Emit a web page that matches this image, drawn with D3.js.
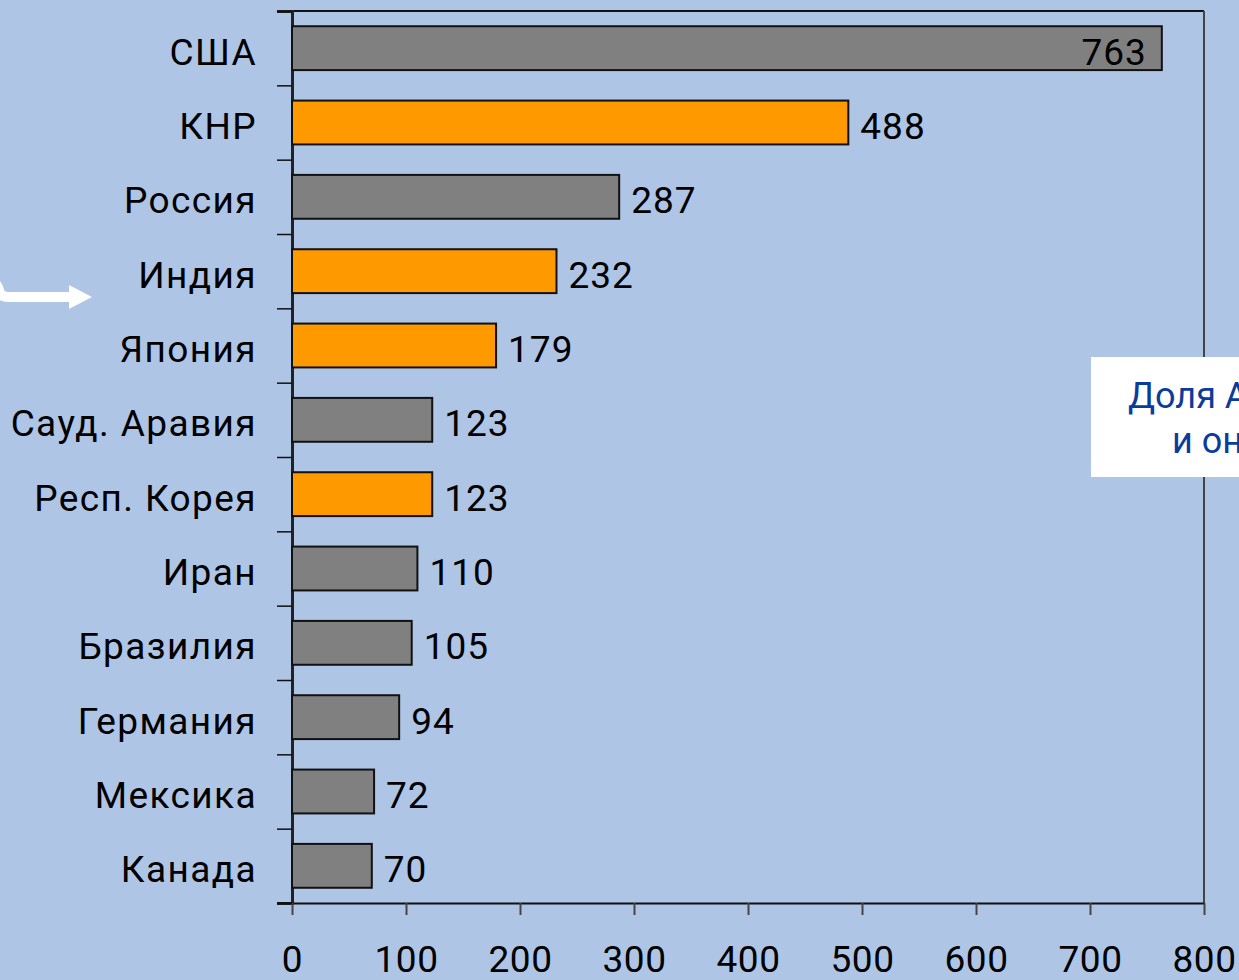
<!DOCTYPE html>
<html>
<head>
<meta charset="utf-8">
<script src="https://cdn.jsdelivr.net/npm/d3@7"></script>
<style>
    body { margin: 0; background: #afc5e5; overflow: hidden; }
    svg text { font-family: Roboto, "DejaVu Sans", sans-serif; }
</style>
</head>
<body>
<div id="chart"></div>
<script>
// chart data
const countries = ["США", "КНР", "Россия", "Индия", "Япония", "Сауд. Аравия", "Респ. Корея", "Иран", "Бразилия", "Германия", "Мексика", "Канада"];
const values = [763, 488, 287, 232, 179, 123, 123, 110, 105, 94, 72, 70];
const asian = [false, true, false, true, true, false, true, false, false, false, false, false];
const xTicks = [0, 100, 200, 300, 400, 500, 600, 700, 800];
const noteLines = ["Доля А", "и он"];

let margin = {top: 11, right: 35, bottom: 77, left: 292};
let width = 1239 - margin.left - margin.right;
let height = 980 - margin.top - margin.bottom;

let svg = d3.select("#chart").append("svg")
    .attr("width", 1239)
    .attr("height", 980);

let g = svg.append("g")
    .attr("transform", `translate(${margin.left}, ${margin.top})`);

let data = countries.map((c, i) => ({name: c, value: values[i], asian: asian[i]}));

// scales
let x = d3.scaleLinear()
    .domain([0, 800])
    .range([0, width]);

let y = d3.scaleBand()
    .domain(countries)
    .range([0, height])
    .paddingInner(0.41)
    .paddingOuter(0.205);

// category boundary ticks on the left
let yEdge = d3.scaleLinear()
    .domain([0, countries.length])
    .range([0, height]);

// top border
g.append("line")
    .attr("x1", -15).attr("x2", width)
    .attr("y1", 0).attr("y2", 0)
    .attr("stroke", "#111").attr("stroke-width", 2);

// right border
g.append("line")
    .attr("x1", width).attr("x2", width)
    .attr("y1", 0).attr("y2", height)
    .attr("stroke", "#444").attr("stroke-width", 2);

let yAxis = g.append("g")
    .call(d3.axisLeft(yEdge).tickValues(d3.range(countries.length + 1)).tickSize(15).tickFormat(""));
yAxis.select(".domain").attr("stroke", "#222").attr("stroke-width", 3);
yAxis.selectAll(".tick line").attr("stroke", "#111").attr("stroke-width", 1.5);

// bottom axis
let xAxis = g.append("g")
    .attr("transform", `translate(0, ${height})`)
    .call(d3.axisBottom(x).tickValues(xTicks).tickSizeInner(12).tickSizeOuter(0).tickPadding(32));
xAxis.select(".domain").attr("stroke", "#111").attr("stroke-width", 2);
xAxis.selectAll(".tick line").attr("stroke", "#444").attr("stroke-width", 2);
xAxis.selectAll(".tick text")
    .attr("fill", "#000")
    .attr("dy", "0.68em")
    .style("font-size", "37px")
    .style("letter-spacing", "0.5px");

// extend the axis line to the left
g.append("line")
    .attr("x1", -15).attr("x2", 0)
    .attr("y1", height).attr("y2", height)
    .attr("stroke", "#111").attr("stroke-width", 2);

// bars
g.selectAll(".bar")
    .data(data)
    .enter().append("rect")
    .attr("class", "bar")
    .attr("x", 0)
    .attr("y", d => y(d.name))
    .attr("width", d => x(d.value))
    .attr("height", y.bandwidth())
    .attr("fill", d => d.asian ? "#ff9900" : "#808080")
    .attr("stroke", "#111")
    .attr("stroke-width", 2);

// value labels
g.selectAll(".value")
    .data(data)
    .enter().append("text")
    .attr("class", "value")
    .attr("x", d => d.value > 700 ? x(d.value) - 15 : x(d.value) + 12)
    .attr("y", d => y(d.name) + y.bandwidth() / 2)
    .attr("dy", "0.45em")
    .attr("text-anchor", d => d.value > 700 ? "end" : "start")
    .style("font-size", "37px")
    .style("letter-spacing", "1px")
    .text(d => d.value);

// category labels
g.selectAll(".cat")
    .data(data)
    .enter().append("text")
    .attr("class", "cat")
    .attr("x", -35)
    .attr("y", d => y(d.name) + y.bandwidth() / 2)
    .attr("dy", "0.45em")
    .attr("text-anchor", "end")
    .style("font-size", "37px")
    .style("letter-spacing", "1.4px")
    .text(d => d.name);

// white arrow on the left
svg.append("path")
    .attr("d", "M -12 280 Q -3 282 -1 290 Q 0 297 8 297 L 72 297")
    .attr("fill", "none")
    .attr("stroke", "#fff")
    .attr("stroke-width", 10);
svg.append("path")
    .attr("d", "M 69 285 L 92 297 L 69 309 Z")
    .attr("fill", "#fff");

// note box on the right
svg.append("rect")
    .attr("x", 1091).attr("y", 357)
    .attr("width", 200).attr("height", 120)
    .attr("fill", "#fff");

svg.selectAll(".note")
    .data(noteLines)
    .enter().append("text")
    .attr("class", "note")
    .attr("x", (d, i) => i === 0 ? 1128 : 1172)
    .attr("y", (d, i) => 408 + i * 45)
    .attr("fill", "#0b3c9c")
    .style("font-size", "36px")
    .text(d => d);
</script>
</body>
</html>
